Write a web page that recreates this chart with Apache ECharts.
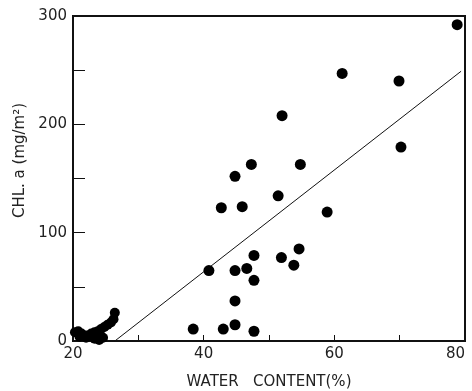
<!DOCTYPE html>
<html>
<head>
<meta charset="utf-8">
<script src="https://cdn.jsdelivr.net/npm/echarts@6/dist/echarts.min.js"></script>
<style>
  html, body { margin: 0; padding: 0; background: #fff; }
  #chart { width: 472px; height: 391px; }
</style>
</head>
<body>
<div id="chart"></div>
<script>
// field samples: water content (%) vs chlorophyll a (mg/m2)
const waterContent = [78.8, 61.2, 69.9, 70.2, 52.0, 47.3, 54.8, 44.8, 51.4, 42.7, 45.9, 58.9,
  54.6, 47.7, 51.9, 53.8, 40.8, 44.8, 46.6, 47.7, 44.8, 38.4, 43.0, 44.8, 47.7]
const chlA = [292, 247, 240, 179, 208, 163, 163, 152, 134, 123, 124, 119,
  85, 79, 77, 70, 65, 65, 67, 56, 37, 11, 11, 15, 9]

// dense cluster of low water content samples
const lowWater = [20.3, 20.8, 21.3, 21.8, 22.3, 22.8, 23.3, 23.8, 24.3, 24.8, 25.3, 25.8, 26.2, 26.4, 23.3, 24.0, 24.6, 21.0, 22.0]
const lowChl = [8, 9, 7, 5, 5, 7, 8, 9, 11, 13, 15, 17, 20, 26, 2, 1, 3, 4, 3]

// regression line end points
const fitX = [26.4, 79.4]
const fitY = [0, 249]

const xTicks = [20, 40, 60, 80]
const yTicks = [0, 100, 200, 300]

const labelFont = { color: '#222', fontFamily: 'DejaVu Sans', fontSize: 15 }
const zip = (a, b) => a.map((v, i) => [v, b[i]])

const chart = echarts.init(document.getElementById('chart'))
chart.setOption({
  animation: false,
  grid: {
    left: 73, right: 7, top: 16, bottom: 50,
    outerBoundsMode: 'none',
    show: true, borderColor: '#111', borderWidth: 2,
  },
  xAxis: {
    type: 'value',
    min: 20, max: 80, interval: 10,
    name: 'WATER   CONTENT(%)',
    nameLocation: 'middle',
    nameGap: 34,
    nameTextStyle: labelFont,
    axisLine: { lineStyle: { color: '#111', width: 2 } },
    axisTick: { inside: true, length: 6, lineStyle: { color: '#111' } },
    axisLabel: {
      ...labelFont, margin: 6, alignMaxLabel: 'right',
      formatter: (v) => xTicks.includes(v) ? String(v) : '',
    },
    splitLine: { show: false },
  },
  yAxis: {
    type: 'value',
    min: 0, max: 300, interval: 50,
    name: 'CHL. a (mg/m²)',
    nameLocation: 'middle',
    nameGap: 38,
    nameTextStyle: { ...labelFont, padding: [0, 0, 0, 36] },
    axisLine: { lineStyle: { color: '#111', width: 2 } },
    axisTick: { inside: true, length: 12, lineStyle: { color: '#111' } },
    axisLabel: { ...labelFont, margin: 6, formatter: (v) => yTicks.includes(v) ? String(v) : '' },
    splitLine: { show: false },
  },
  series: [
    {
      type: 'line',
      data: zip(fitX, fitY),
      symbol: 'none',
      lineStyle: { color: '#111', width: 1 },
      z: 1,
    },
    {
      type: 'scatter',
      data: zip(waterContent, chlA),
      symbol: 'circle',
      symbolSize: 11,
      itemStyle: { color: '#000', opacity: 1 },
      z: 2,
    },
    {
      type: 'scatter',
      data: zip(lowWater, lowChl),
      symbol: 'circle',
      symbolSize: 10,
      itemStyle: { color: '#000', opacity: 1 },
      z: 2,
    },
  ],
})
</script>
</body>
</html>
